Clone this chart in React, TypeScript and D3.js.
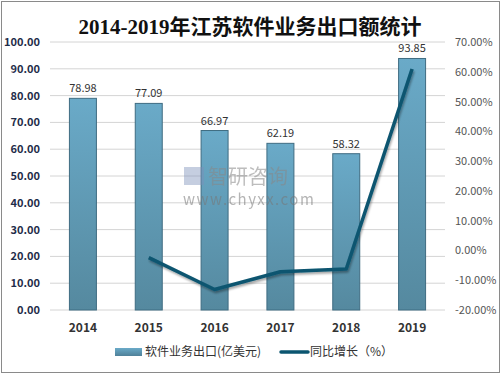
import React from "react";
import * as d3 from "d3";

const years = ["2014", "2015", "2016", "2017", "2018", "2019"];
const exportValues = [78.98, 77.09, 66.97, 62.19, 58.32, 93.85];
const growthYears = ["2015", "2016", "2017", "2018", "2019"];
const growthValues = [-2.39, -13.1, -7.14, -6.22, 60.92];
const leftTicks = [0, 10, 20, 30, 40, 50, 60, 70, 80, 90, 100];
const rightTicks = [-20, -10, 0, 10, 20, 30, 40, 50, 60, 70];

const W = 502;
const H = 375;
const plotL = 50;
const plotR = 445;
const plotT = 42;
const plotB = 310;

export default function App() {
  const x = d3.scaleBand<string>().domain(years).range([plotL, plotR]).paddingInner(0.59).paddingOuter(0.295);
  const yL = d3.scaleLinear().domain([0, 100]).range([plotB, plotT]);
  const yR = d3.scaleLinear().domain([-20, 70]).range([plotB, plotT]);
  const cx = (c: string) => (x(c) as number) + x.bandwidth() / 2;
  const line = d3
    .line<number>()
    .x((_, i) => cx(growthYears[i]))
    .y((d) => yR(d));
  const path = line(growthValues) as string;
  const sans = "'Microsoft YaHei', 'Noto Sans CJK SC', 'DejaVu Sans', sans-serif";

  return (
    <svg width={W} height={H} style={{ position: "absolute", left: 0, top: 0 }} fontFamily={sans}>
      <defs>
        <linearGradient id="barG" x1="0" y1="0" x2="0" y2="1">
          <stop offset="0%" stopColor="#6aaac8" />
          <stop offset="100%" stopColor="#55899f" />
        </linearGradient>
        <linearGradient id="legG" x1="0" y1="0" x2="0" y2="1">
          <stop offset="0%" stopColor="#6aaac8" />
          <stop offset="100%" stopColor="#4f8199" />
        </linearGradient>
        <filter id="sh" x="-20%" y="-20%" width="140%" height="140%">
          <feDropShadow dx="1" dy="2" stdDeviation="1.2" floodColor="#000" floodOpacity="0.35" />
        </filter>
      </defs>
      <rect x={0} y={0} width={W} height={H} fill="#fff" />
      <rect x={1.5} y={1.5} width={W - 4} height={H - 4} fill="none" stroke="#8a8a8a" strokeWidth={1} />
      <text
        x={250}
        y={34}
        textAnchor="middle"
        fontFamily="'Liberation Serif', 'Noto Sans CJK SC', serif"
        fontWeight="bold"
        fontSize={21}
        fill="#111"
      >
        2014-2019年江苏软件业务出口额统计
      </text>
      {leftTicks.map((t) => (
        <line key={t} x1={plotL} x2={plotR} y1={yL(t)} y2={yL(t)} stroke="#d4d4d4" strokeWidth={1} />
      ))}
      {leftTicks.map((t) => (
        <text key={t} x={40} y={yL(t) + 4} textAnchor="end" fontSize={11} fontWeight="bold" fill="#1f2d4a">
          {t.toFixed(2)}
        </text>
      ))}
      {rightTicks.map((t) => (
        <text key={t} x={455} y={yR(t) + 4} textAnchor="start" fontSize={11} fill="#555">
          {t.toFixed(2)}%
        </text>
      ))}
      {years.map((c, i) => (
        <g key={c}>
          <rect
            x={x(c)}
            y={yL(exportValues[i])}
            width={x.bandwidth()}
            height={plotB - yL(exportValues[i])}
            fill="url(#barG)"
            stroke="#3f6c82"
            strokeWidth={1}
          />
          <text x={cx(c)} y={yL(exportValues[i]) - 6} textAnchor="middle" fontSize={11} fill="#333">
            {exportValues[i].toFixed(2)}
          </text>
          <text x={cx(c)} y={332} textAnchor="middle" fontSize={12} fontWeight="bold" fill="#333">
            {c}
          </text>
        </g>
      ))}
      <g opacity={0.55}>
        <rect x={184} y={167} width={20} height={18} fill="#7a8fb8" opacity={0.8} />
        <text x={208} y={184} fontSize={20} fill="#888">智研咨询</text>
        <text x={183} y={205} fontSize={15} fill="#777" letterSpacing={1.5}>www.chyxx.com</text>
      </g>
      <path d={path} fill="none" stroke="#0b5570" strokeWidth={3.5} strokeLinejoin="round" filter="url(#sh)" />
      <rect x={115} y={348} width={27} height={8} fill="url(#legG)" />
      <text x={145} y={356} fontSize={12} fill="#333">软件业务出口(亿美元)</text>
      <line x1={281} x2={308} y1={352} y2={352} stroke="#0b5570" strokeWidth={3.5} strokeLinecap="round" />
      <text x={310} y={356} fontSize={12} fill="#333">同比增长（%）</text>
    </svg>
  );
}
